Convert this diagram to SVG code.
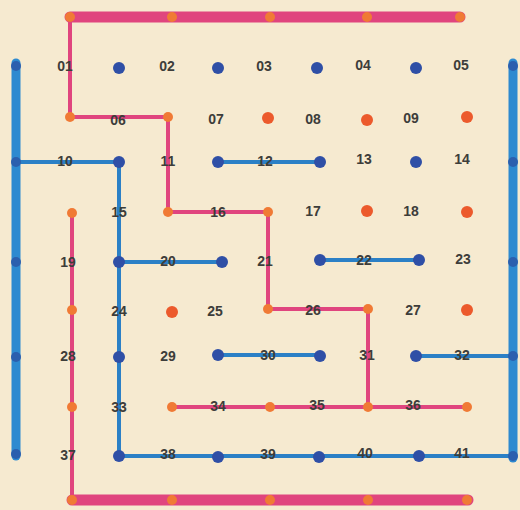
<svg xmlns="http://www.w3.org/2000/svg" width="520" height="510" viewBox="0 0 520 510">
<style>
.pk{stroke:#e0457e;fill:none;stroke-linecap:round;stroke-linejoin:round}
.thin{stroke-width:4}
.thick{stroke-width:11}
.bl{stroke:#2b80c6;fill:none;stroke-width:4;stroke-linecap:round;stroke-linejoin:round}
.bar{stroke:#2d8ad0;fill:none;stroke-width:9;stroke-linecap:round}
.bd{fill:#2f4fa6}
.od{fill:#ec5a2c}
.bn{fill:#2b5fae}
.on{fill:#f07a35}
text{font-family:"Liberation Sans",Arial,sans-serif;font-weight:bold;font-size:14px;fill:#3d3d3a;text-anchor:middle;dominant-baseline:central}
</style>
<rect width="520" height="510" fill="#f6ead0"/>
<g id="connectors">
<path class="pk thick" d="M70,17H460"/>
<path class="pk thick" d="M72,500H468"/>
<path class="pk thin" d="M70,17V117H168V212H268V309H368V407"/>
<path class="pk thin" d="M72,213V500"/>
<path class="pk thin" d="M172,407H467"/>
<path class="bar" d="M16,63V456"/>
<path class="bar" d="M513,63V458"/>
<path class="bl" d="M16,162H119V456H513"/>
<path class="bl" d="M119,262H222"/>
<path class="bl" d="M218,162H320"/>
<path class="bl" d="M320,260H419"/>
<path class="bl" d="M218,355H320"/>
<path class="bl" d="M416,356H513"/>
</g>
<g id="junctions">
<circle class="on" cx="70" cy="17" r="5"/><circle class="on" cx="172" cy="17" r="5"/><circle class="on" cx="270" cy="17" r="5"/><circle class="on" cx="367" cy="17" r="5"/><circle class="on" cx="460" cy="17" r="5"/>
<circle class="on" cx="72" cy="500" r="5"/><circle class="on" cx="172" cy="500" r="5"/><circle class="on" cx="270" cy="500" r="5"/><circle class="on" cx="368" cy="500" r="5"/><circle class="on" cx="467" cy="500" r="5"/>
<circle class="on" cx="70" cy="117" r="5"/><circle class="on" cx="168" cy="117" r="5"/><circle class="on" cx="168" cy="212" r="5"/><circle class="on" cx="268" cy="212" r="5"/><circle class="on" cx="268" cy="309" r="5"/><circle class="on" cx="368" cy="309" r="5"/><circle class="on" cx="368" cy="407" r="5"/>
<circle class="on" cx="172" cy="407" r="5"/><circle class="on" cx="270" cy="407" r="5"/><circle class="on" cx="467" cy="407" r="5"/>
<circle class="on" cx="72" cy="213" r="5"/><circle class="on" cx="72" cy="310" r="5"/><circle class="on" cx="72" cy="407" r="5"/>
<circle class="bn" cx="16" cy="66" r="5"/><circle class="bn" cx="16" cy="162" r="5"/><circle class="bn" cx="16" cy="262" r="5"/><circle class="bn" cx="16" cy="357" r="5"/><circle class="bn" cx="16" cy="454" r="5"/>
<circle class="bn" cx="513" cy="66" r="5"/><circle class="bn" cx="513" cy="162" r="5"/><circle class="bn" cx="513" cy="262" r="5"/><circle class="bn" cx="513" cy="356" r="5"/><circle class="bn" cx="513" cy="456" r="5"/>
</g>
<g id="dots">
<circle class="bd" cx="119" cy="68" r="6"/><circle class="bd" cx="218" cy="68" r="6"/><circle class="bd" cx="317" cy="68" r="6"/><circle class="bd" cx="416" cy="68" r="6"/>
<circle class="bd" cx="119" cy="162" r="6"/><circle class="bd" cx="218" cy="162" r="6"/><circle class="bd" cx="320" cy="162" r="6"/><circle class="bd" cx="416" cy="162" r="6"/>
<circle class="bd" cx="119" cy="262" r="6"/><circle class="bd" cx="222" cy="262" r="6"/><circle class="bd" cx="320" cy="260" r="6"/><circle class="bd" cx="419" cy="260" r="6"/>
<circle class="bd" cx="119" cy="357" r="6"/><circle class="bd" cx="218" cy="355" r="6"/><circle class="bd" cx="320" cy="356" r="6"/><circle class="bd" cx="416" cy="356" r="6"/>
<circle class="bd" cx="119" cy="456" r="6"/><circle class="bd" cx="218" cy="457" r="6"/><circle class="bd" cx="319" cy="457" r="6"/><circle class="bd" cx="419" cy="456" r="6"/>
<circle class="od" cx="268" cy="118" r="6"/><circle class="od" cx="367" cy="120" r="6"/><circle class="od" cx="467" cy="117" r="6"/>
<circle class="od" cx="367" cy="211" r="6"/><circle class="od" cx="467" cy="212" r="6"/>
<circle class="od" cx="172" cy="312" r="6"/><circle class="od" cx="467" cy="310" r="6"/>
</g>
<g id="labels">
<text x="65" y="66">01</text><text x="167" y="66">02</text><text x="264" y="66">03</text><text x="363" y="65">04</text><text x="461" y="65">05</text>
<text x="118" y="120">06</text><text x="216" y="119">07</text><text x="313" y="119">08</text><text x="411" y="118">09</text>
<text x="65" y="161">10</text><text x="168" y="161">11</text><text x="265" y="161">12</text><text x="364" y="159">13</text><text x="462" y="159">14</text>
<text x="119" y="212">15</text><text x="218" y="212">16</text><text x="313" y="211">17</text><text x="411" y="211">18</text>
<text x="68" y="262">19</text><text x="168" y="261">20</text><text x="265" y="261">21</text><text x="364" y="260">22</text><text x="463" y="259">23</text>
<text x="119" y="311">24</text><text x="215" y="311">25</text><text x="313" y="310">26</text><text x="413" y="310">27</text>
<text x="68" y="356">28</text><text x="168" y="356">29</text><text x="268" y="355">30</text><text x="367" y="355">31</text><text x="462" y="355">32</text>
<text x="119" y="407">33</text><text x="218" y="406">34</text><text x="317" y="405">35</text><text x="413" y="405">36</text>
<text x="68" y="455">37</text><text x="168" y="454">38</text><text x="268" y="454">39</text><text x="365" y="453">40</text><text x="462" y="453">41</text>
</g>
</svg>
